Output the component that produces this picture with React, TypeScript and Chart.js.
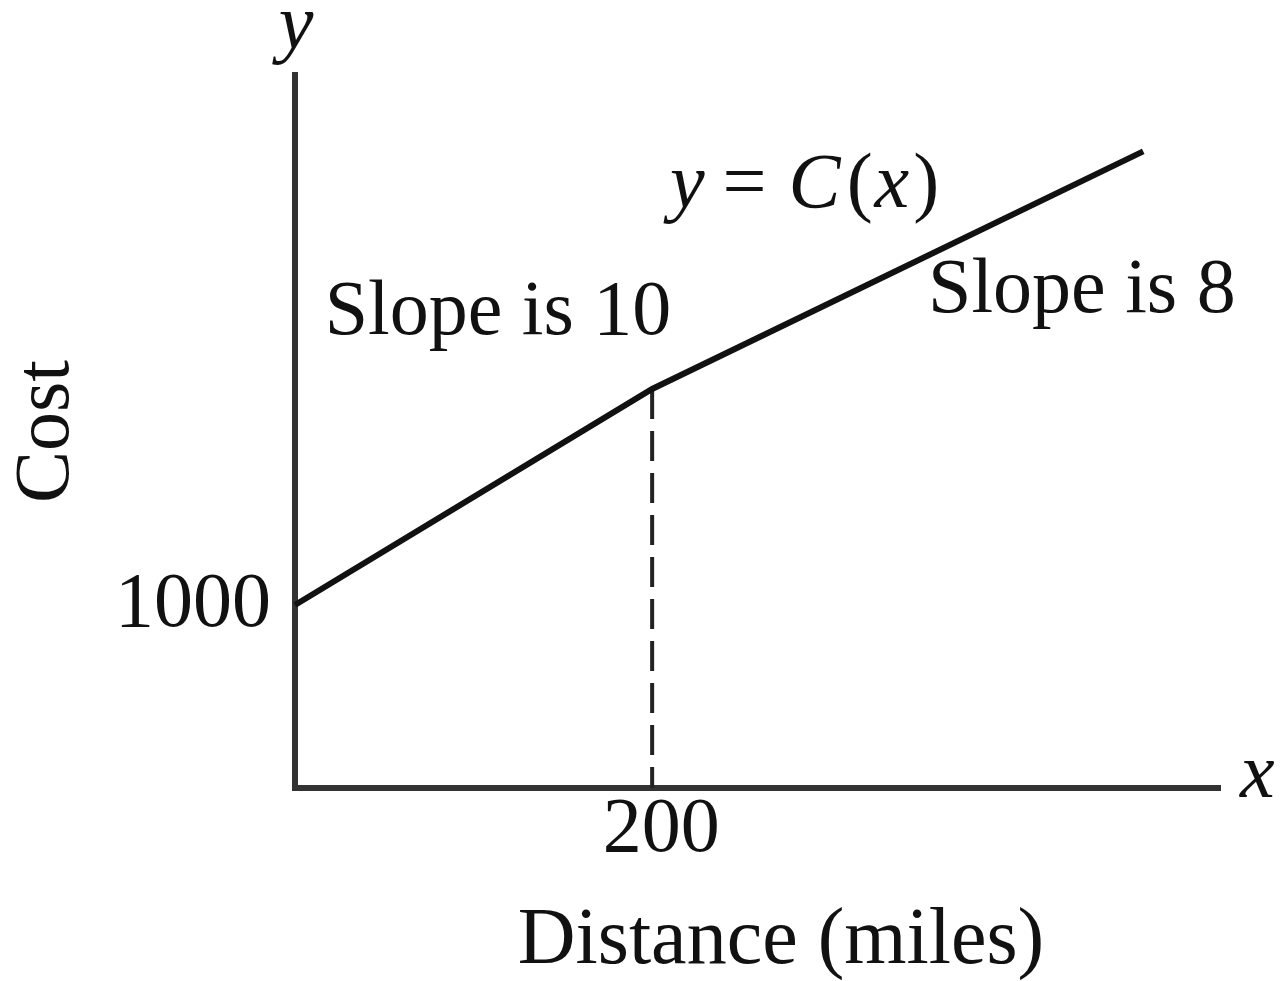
import { useEffect, useRef } from "react";
import { Chart, registerables } from "chart.js";

Chart.register(...registerables);

// Piecewise-linear cost function C(x): $1000 fixed, $10/mile up to 200 miles, $8/mile after.
const distances = [0, 200, 475];
const costs = [1000, 3000, 5200];
const slopes = [10, 8];
const breakDistance = 200;
const breakCost = 3000;
const xTicks = [200];
const yTicks = [1000];
const xRange = [0, 518];
const yRange = [-694, 5907];
const xTitle = "Distance (miles)";
const yTitle = "Cost";

const FAMILY = "'Liberation Serif', 'DejaVu Serif', serif";
const SIZE = 78;
const INK = "#111";
const AXIS = "#333";

// Free-standing labels: axis letters, the distance caption, the function name and the slope notes.
const notesPlugin = {
  id: "notes",
  afterDraw(chart: any) {
    const ctx: CanvasRenderingContext2D = chart.ctx;
    const reg = `${SIZE}px ${FAMILY}`;
    const ita = `italic ${SIZE}px ${FAMILY}`;
    ctx.save();
    ctx.fillStyle = INK;
    ctx.textBaseline = "alphabetic";

    // axis letters
    ctx.font = ita;
    ctx.textAlign = "center";
    ctx.fillText("y", 296, 48);
    ctx.textAlign = "left";
    ctx.fillText("x", 1240, 797);

    // horizontal axis caption
    ctx.font = `${SIZE + 2}px ${FAMILY}`;
    ctx.textAlign = "center";
    ctx.fillText(xTitle, 781, 963);

    // y = C(x), mixing italic symbols with upright punctuation
    const parts: [string, string, number][] = [
      ["y", ita, 8],
      ["=", reg, 12],
      ["C", ita, 6],
      ["(", reg, 2],
      ["x", ita, 4],
      [")", reg, 0],
    ];
    ctx.textAlign = "left";
    let px = 670;
    for (const [t, f, gap] of parts) {
      ctx.font = f;
      ctx.fillText(t, px, 207);
      px += ctx.measureText(t).width + gap + (t === "y" || t === "=" ? 10 : 0);
    }

    // slope notes
    ctx.font = reg;
    ctx.textAlign = "center";
    ctx.fillText(`Slope is ${slopes[0]}`, 498, 334);
    ctx.textAlign = "left";
    ctx.fillText(`Slope is ${slopes[1]}`, 928, 312);
    ctx.restore();
  },
};

export default function App() {
  const canvasRef = useRef<HTMLCanvasElement | null>(null);

  useEffect(() => {
    const canvas = canvasRef.current;
    if (!canvas) return;

    const costLine = distances.map((d, i) => ({ x: d, y: costs[i] }));
    const dropLine = [
      { x: breakDistance, y: breakCost },
      { x: breakDistance, y: yRange[0] },
    ];

    const chart = new Chart(canvas, {
      type: "line",
      data: {
        datasets: [
          {
            data: costLine,
            borderColor: INK,
            borderWidth: 6,
            pointRadius: 0,
            tension: 0,
            clip: false as any,
          },
          {
            data: dropLine,
            borderColor: "#222",
            borderWidth: 4,
            borderDash: [30, 12],
            pointRadius: 0,
          },
        ],
      },
      options: {
        animation: false,
        responsive: false,
        devicePixelRatio: 1,
        layout: { padding: { left: 0, top: 75, right: 63, bottom: 0 } },
        plugins: {
          legend: { display: false },
          tooltip: { enabled: false },
        },
        scales: {
          x: {
            type: "linear",
            min: xRange[0],
            max: xRange[1],
            afterBuildTicks: (s: any) => {
              s.ticks = xTicks.map((v) => ({ value: v }));
            },
            afterFit: (s: any) => {
              s.height = 193;
            },
            grid: { display: false, drawTicks: false },
            border: { display: true, color: AXIS, width: 6 },
            ticks: {
              color: INK,
              font: { family: FAMILY, size: SIZE, lineHeight: 1 },
              padding: 4,
              labelOffset: 9,
              maxRotation: 0,
              autoSkip: false,
              callback: (v: any) => String(v),
            },
            title: { display: false },
          },
          y: {
            type: "linear",
            min: yRange[0],
            max: yRange[1],
            afterBuildTicks: (s: any) => {
              s.ticks = yTicks.map((v) => ({ value: v }));
            },
            afterFit: (s: any) => {
              s.width = 295;
            },
            grid: { display: false, drawTicks: false },
            border: { display: true, color: AXIS, width: 6 },
            ticks: {
              color: INK,
              font: { family: FAMILY, size: SIZE, lineHeight: 1 },
              padding: 24,
              autoSkip: false,
              callback: (v: any) => String(v),
            },
            title: {
              display: true,
              text: yTitle,
              color: INK,
              font: { family: FAMILY, size: SIZE, lineHeight: 1 },
              padding: { top: 9, bottom: 0 },
            },
          },
        },
      },
      plugins: [notesPlugin],
    });

    return () => chart.destroy();
  }, []);

  return (
    <div style={{ position: "absolute", left: 0, top: 0, width: 1283, height: 981, background: "#fff" }}>
      <canvas ref={canvasRef} width={1283} height={981} />
    </div>
  );
}
